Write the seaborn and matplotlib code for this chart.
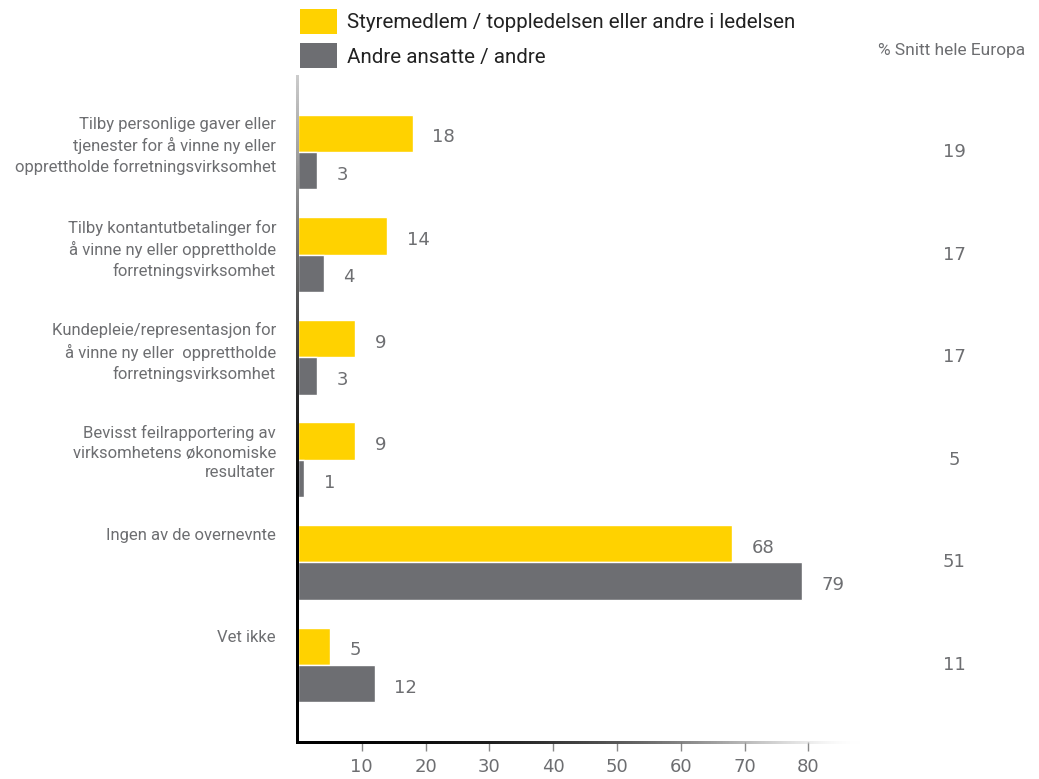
import numpy as np
import pandas as pd
import matplotlib
matplotlib.use("Agg")
import matplotlib.pyplot as plt
from matplotlib.patches import Patch
from matplotlib.transforms import blended_transform_factory
import seaborn as sns

# --- data ---
categories = [
    "Tilby personlige gaver eller\ntjenester for å vinne ny eller\nopprettholde forretningsvirksomhet",
    "Tilby kontantutbetalinger for\nå vinne ny eller opprettholde\nforretningsvirksomhet",
    "Kundepleie/representasjon for\nå vinne ny eller  opprettholde\nforretningsvirksomhet",
    "Bevisst feilrapportering av\nvirksomhetens økonomiske\nresultater",
    "Ingen av de overnevnte",
    "Vet ikke",
]
leaders = [18, 14, 9, 9, 68, 5]
others = [3, 4, 3, 1, 79, 12]
europe = [19, 17, 17, 5, 51, 11]
series_names = ["Styremedlem / toppledelsen eller andre i ledelsen", "Andre ansatte / andre"]
x_ticks = [10, 20, 30, 40, 50, 60, 70, 80]
europe_title = "% Snitt hele Europa"

YELLOW = "#FFD200"
DARK = "#6D6E72"
TXT = "#6D6E71"

df = pd.DataFrame({
    "kategori": categories * 2,
    "prosent": leaders + others,
    "gruppe": [series_names[0]] * len(categories) + [series_names[1]] * len(categories),
})

sns.set_theme(style="white")
plt.rcParams["font.family"] = ["Roboto", "DejaVu Sans"]

W, H = 1039, 779
fig = plt.figure(figsize=(W / 100, H / 100), dpi=100)
ax = fig.add_axes([298 / W, 1 - 742 / H, 557 / W, 667 / H])

sns.barplot(data=df, y="kategori", x="prosent", hue="gruppe", order=categories,
            hue_order=series_names, orient="h", palette=[YELLOW, DARK],
            width=0.73, saturation=1, legend=False, ax=ax)

ax.set_xlim(0, 87.3)
ax.set_ylim(5.75, -0.75)
ax.set_xlabel("")
ax.set_ylabel("")
ax.set_yticks([])
ax.set_xticks(x_ticks)
ax.set_xticklabels([str(t) for t in x_ticks], family="DejaVu Sans", fontsize=13, color=TXT)
ax.tick_params(axis="x", bottom=True, direction="out", length=6.5, width=1, color="#888888", pad=5)
for s in ax.spines.values():
    s.set_visible(False)

# value labels
for cont, vals in zip(ax.containers, [leaders, others]):
    for bar, v in zip(cont, vals):
        ax.annotate(str(v), (bar.get_x() + bar.get_width(), bar.get_y() + bar.get_height() / 2),
                    xytext=(14, -3), textcoords="offset points", ha="left", va="center",
                    fontsize=13, color=TXT, family="DejaVu Sans")

# category labels on the left, top aligned with bars
tr = blended_transform_factory(ax.transAxes, ax.transData)
for i, lab in enumerate(categories):
    ax.text(-22 / 557, i - 0.34, lab, transform=tr, ha="right", va="top",
            fontsize=12, color=TXT, linespacing=1.38)

# European average column
for i, v in enumerate(europe):
    ax.text((954 - 298) / 557, i, str(v), transform=tr, ha="center", va="center",
            fontsize=13, color=TXT, family="DejaVu Sans")
fig.text(952 / W, 1 - 50 / H, europe_title, ha="center", va="center",
         fontsize=12.5, color=TXT)

# gradient spines drawn as thin images
def gradient_strip(rect, rgba):
    gax = fig.add_axes(rect)
    gax.imshow(rgba, aspect="auto", interpolation="bilinear")
    gax.set_axis_off()

t = np.linspace(0, 1, 400)
# bottom spine: black fading out to the right
shade = t ** 2
bottom = np.zeros((1, t.size, 4))
bottom[0, :, 0] = bottom[0, :, 1] = bottom[0, :, 2] = shade
bottom[0, :, 3] = 1 - shade ** 3
gradient_strip([296 / W, 1 - 744 / H, 564 / W, 3 / H], bottom)
# left spine: light grey at the top, black further down
shade_l = np.clip((1 - t - 0.35) / 0.65, 0, 1) ** 1.2 * 0.8
left = np.zeros((t.size, 1, 4))
left[:, 0, 0] = left[:, 0, 1] = left[:, 0, 2] = shade_l
left[:, 0, 3] = 1
gradient_strip([296 / W, 1 - 744 / H, 3 / W, 669 / H], left)

# legend
handles = [Patch(facecolor=YELLOW, edgecolor="none"), Patch(facecolor=DARK, edgecolor="none")]
fig.legend(handles, series_names, loc="upper left", bbox_to_anchor=(300 / W, 1 - 9 / H),
           frameon=False, borderpad=0, borderaxespad=0, fontsize=14.8,
           handlelength=1.8, handleheight=1.5, labelspacing=0.45, handletextpad=0.5,
           labelcolor="#222222")

fig.savefig("out.png", dpi=100)
